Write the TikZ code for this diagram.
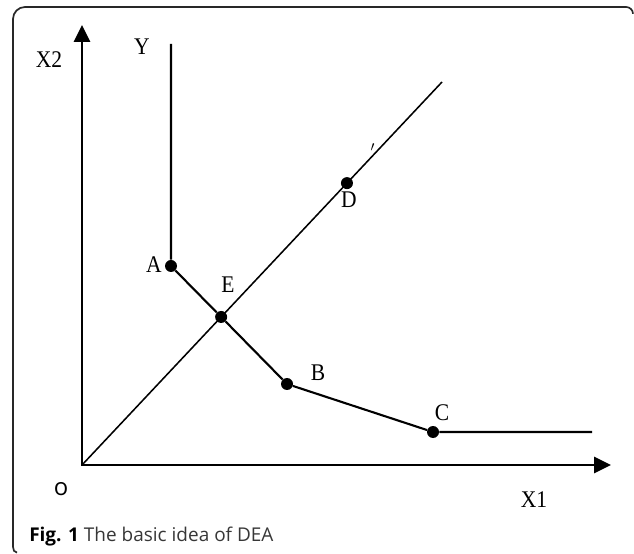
\documentclass[tikz,border=0pt]{standalone}
\usepackage{fontspec}
\setmainfont{Liberation Serif}[FakeStretch=0.9]
\newfontfamily\capfont{Open Sans}
\usetikzlibrary{arrows.meta, calc}
\definecolor{frameline}{RGB}{40,40,40}
\definecolor{captext}{RGB}{55,55,55}
\tikzset{
  axisarrow/.style={{Triangle[length=0.42cm, width=0.4cm]}-{Triangle[length=0.42cm, width=0.4cm]},
    line width=1.6pt, color=black},
  frontier/.style={line width=1.5pt, color=black},
  ray/.style={line width=1.1pt, color=black},
  unit/.style={circle, fill=black, minimum size=0.3cm, inner sep=0pt},
  lab/.style={font=\fontsize{17}{19}\selectfont, inner sep=0pt},
  frame/.style={line width=1.2pt, color=frameline}
}

\begin{document}
\begin{tikzpicture}
  \useasboundingbox (-2.05,-2.2) rectangle (13.8,11.625);
  % frame
  \draw[frame] (-1.625,-2.19) to[out=180,in=-90] (-1.725,-2.05) -- (-1.725,11.15)
    to[out=90,in=180] (-1.425,11.45) -- (13.6,11.45) to[out=0,in=90] (13.775,11.28);

  % axes
  \coordinate (O) at (0,0);
  \coordinate (Xtip) at (13.225,0);
  \coordinate (Ytip) at (0,11.0);
  \draw[axisarrow] (Ytip) -- (O) -- (Xtip);
  \node[lab] (x2) at (-0.825,10.125) {X2};
  \node[lab] (x1) at (11.3,-0.875) {X1};
  \node[lab, font=\capfont\fontsize{17}{19}\selectfont] (o) at (-0.525,-0.6) {o};

  % ray through D
  \coordinate (T) at (9.0,9.575);
  \draw[ray] (O) -- (T);
  \node[lab, font=\fontsize{14}{14}\selectfont] (tick) at (7.27,7.85) {$'$};

  % frontier Y
  \coordinate (Ytop) at (2.225,10.525);
  \coordinate (Cend) at (12.75,0.825);
  \node[unit] (A) at (2.225,4.975) {};
  \node[unit] (B) at (5.125,2.025) {};
  \node[unit] (C) at (8.775,0.825) {};
  \node[unit] (E) at (intersection of A--B and O--T) {};
  \node[unit] (D) at ($(O)!0.736!(T)$) {};
  \draw[frontier] (Ytop) -- (A) -- (E) -- (B) -- (C) -- (Cend);
  \node[lab] (y) at (1.5,10.45) {Y};

  % point labels
  \node[lab] (la) at (1.8,5.0) {A};
  \node[lab] (le) at (3.65,4.5) {E};
  \node[lab] (lb) at (5.9,2.3) {B};
  \node[lab] (lc) at (9.0,1.3) {C};
  \node[lab] (ld) at (6.675,6.625) {D};

  % caption
  \node[anchor=base west, inner sep=0pt, font=\capfont\fontsize{13.5}{15}\selectfont, text=captext]
    (cap) at (-1.325,-1.9) {{\color{black}\bfseries Fig. 1} The basic idea of DEA};
\end{tikzpicture}
\end{document}
